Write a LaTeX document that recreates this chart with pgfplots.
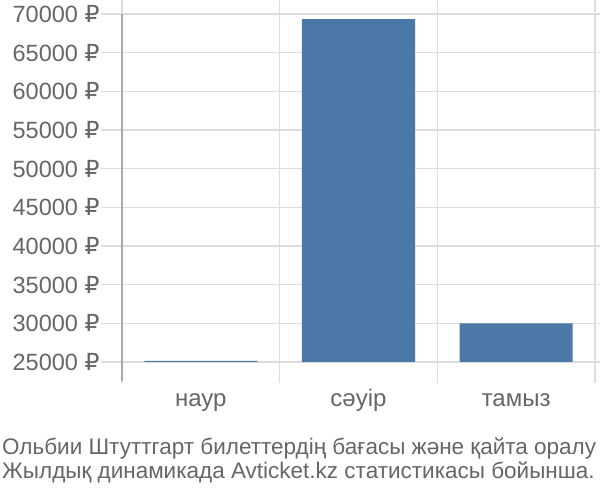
\documentclass[border=0pt]{standalone}
\usepackage{pgfplots}
\pgfplotsset{compat=1.18}
\usepackage{fontspec}
\setmainfont{Liberation Sans}
\newfontfamily\rub{DejaVu Sans}
\newcommand\R{{\rub ₽}}
\definecolor{barblue}{HTML}{4C78A8}
\definecolor{gridgray}{HTML}{DDDDDD}
\definecolor{axisgray}{HTML}{AAAAAA}
\definecolor{txtgray}{HTML}{666666}
\begin{document}
\begin{tikzpicture}
\begin{axis}[
    scale only axis,
    width=473pt, height=348pt,
    xmin=0.5, xmax=3.5,
    ymin=25000, ymax=70000,
    axis line style={draw=none},
    xtick={0.5,1.5,2.5,3.5},
    xticklabels={},
    xmajorgrids,
    ytick={25000,30000,...,70000},
    yticklabels={25000 \R,30000 \R,35000 \R,40000 \R,45000 \R,50000 \R,55000 \R,60000 \R,65000 \R,70000 \R},
    scaled y ticks=false,
    ymajorgrids,
    grid style={gridgray, line width=1.2pt},
    tick align=outside,
    major tick length=21pt,
    x tick style={gridgray, line width=1.2pt, shorten >=2pt},
    y tick style={gridgray, line width=1.2pt},
    yticklabel style={font=\fontsize{23.5}{26}\selectfont, text=txtgray, xshift=2pt},
    extra x ticks={1,2,3},
    extra x tick labels={наур,сәуір,тамыз},
    extra x tick style={grid=none, tick style={draw=none},
        tick label style={font=\fontsize{24}{26}\selectfont, text=txtgray, anchor=base, yshift=-23.5pt}},
    ybar, bar width=113pt,
]
\addplot [draw=none, fill=barblue] coordinates {
    (1,25150)
    (2,69350)
    (3,30000)
};
\end{axis}
\draw[axisgray, line width=1.2pt] (0,348pt) -- (0,-19pt);
\node[anchor=base west, text=txtgray, font=\fontsize{22.5}{27}\selectfont, inner sep=0pt]
    at (-120pt,-93pt) {Ольбии Штуттгарт билеттердің бағасы және қайта оралу};
\node[anchor=base west, text=txtgray, font=\fontsize{22.5}{27}\selectfont, inner sep=0pt]
    at (-120pt,-117pt) {Жылдық динамикада Avticket.kz статистикасы бойынша.};
\pgfresetboundingbox
\path (-122pt,-138pt) rectangle (478pt,362pt);
\end{tikzpicture}
\end{document}
